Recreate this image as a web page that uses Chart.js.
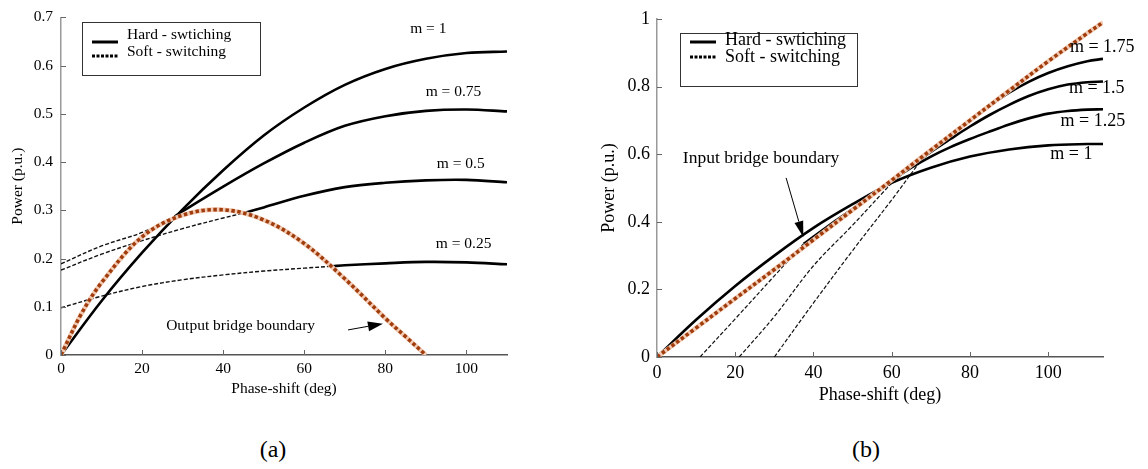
<!DOCTYPE html>
<html lang="en">
<head>
<meta charset="UTF-8">
<title>Power vs phase-shift</title>
<script src="https://cdn.jsdelivr.net/npm/chart.js"></script>
<style>
  body { margin: 0; background: #fff; width: 1148px; height: 469px; position: relative; overflow: hidden; }
  canvas { position: absolute; top: 0; }
  #chartA { left: 0; }
  #chartB { left: 574px; }
  .caption { position: absolute; top: 435px; font-family: 'Liberation Serif', serif; font-size: 24px; line-height: 28px; transform: translateX(-50%); }
</style>
</head>
<body>
<canvas id="chartA" width="560" height="420"></canvas>
<canvas id="chartB" width="574" height="420"></canvas>
<div class="caption" style="left:273px">(a)</div>
<div class="caption" style="left:866px">(b)</div>
<script>
// ---- (a) output bridge, m <= 1 : [phase-shift deg, power p.u.]
const A_M1_HARD   = [[0,0],[10,0.112],[20,0.212],[30,0.302],[40,0.383],[50,0.455],[60,0.513],[70,0.56],[80,0.593],[90,0.614],[100,0.626],[110,0.629]];
const A_M075_SOFT = [[0,0.189],[10,0.226],[20,0.254],[28,0.287]];
const A_M075_HARD = [[28,0.287],[30,0.298],[40,0.349],[50,0.397],[60,0.44],[70,0.475],[80,0.495],[90,0.506],[100,0.509],[110,0.505]];
const A_M05_SOFT  = [[0,0.176],[10,0.209],[20,0.237],[30,0.262],[40,0.284],[45,0.294]];
const A_M05_HARD  = [[45,0.294],[50,0.306],[60,0.33],[70,0.348],[80,0.357],[90,0.362],[100,0.363],[110,0.358]];
const A_M025_SOFT = [[0,0.098],[10,0.122],[20,0.142],[30,0.156],[40,0.166],[50,0.174],[60,0.18],[67,0.184]];
const A_M025_HARD = [[67,0.184],[70,0.186],[80,0.19],[90,0.193],[100,0.192],[110,0.188]];
const A_BOUNDARY  = [[0,0],[5,0.085],[10,0.15],[20,0.245],[30,0.29],[40,0.301],[50,0.28],[60,0.231],[70,0.158],[80,0.076],[85,0.038],[90,0]];
const A_XTICKS = [0, 20, 40, 60, 80, 100];
const A_YTICKS = [0, 0.1, 0.2, 0.3, 0.4, 0.5, 0.6, 0.7];

// ---- (b) input bridge, m >= 1
const B_M1_HARD   = [[0,0],[10,0.11],[20,0.21],[30,0.3],[40,0.382],[50,0.452],[60,0.515],[70,0.56],[80,0.593],[90,0.614],[100,0.626],[110,0.63],[114,0.63]];
const B_M125_SOFT = [[11,0],[20,0.113],[30,0.24],[37.5,0.335]];
const B_M125_HARD = [[37.5,0.335],[45,0.398],[50,0.438],[55,0.48],[60,0.522],[65,0.56],[70,0.593],[75,0.621],[80,0.645],[85,0.667],[90,0.688],[95,0.706],[100,0.72],[105,0.728],[110,0.732],[114,0.733]];
const B_M15_SOFT  = [[21,0],[30,0.12],[40,0.27],[50,0.39],[58,0.49],[61,0.527]];
const B_M15_HARD  = [[61,0.527],[65,0.566],[70,0.607],[75,0.645],[80,0.682],[85,0.716],[90,0.746],[95,0.772],[100,0.792],[105,0.806],[110,0.813],[114,0.815]];
const B_M175_SOFT = [[30,0],[40,0.16],[50,0.315],[60,0.465],[68,0.59]];
const B_M175_HARD = [[68,0.59],[75,0.655],[80,0.7],[85,0.743],[90,0.782],[95,0.814],[100,0.84],[105,0.86],[110,0.875],[114,0.882]];
const B_BOUNDARY  = [[0,0],[10,0.086],[20,0.173],[30,0.259],[40,0.347],[50,0.435],[60,0.523],[70,0.612],[80,0.7],[90,0.788],[100,0.875],[110,0.958],[114,0.99]];
const B_XTICKS = [0, 20, 40, 60, 80, 100];
const B_YTICKS = [0, 0.2, 0.4, 0.6, 0.8, 1];

const SERIF = "'Liberation Serif', 'Times New Roman', serif";

function pts(arr) { return arr.map(p => ({ x: p[0], y: p[1] })); }

function hard(arr) {
  return { data: pts(arr), borderColor: '#000', borderWidth: 2.6, tension: 0.35 };
}
function soft(arr, w) {
  return { data: pts(arr), borderColor: '#111', borderWidth: w || 1.4, borderDash: [4, 2], tension: 0.35 };
}
// boundary: dark dotted line over a light halo
function boundary(arr) {
  return [
    { data: pts(arr), borderColor: '#a13d0d', borderWidth: 3.6, borderDash: [3.5, 2.5], tension: 0.35 },
    { data: pts(arr), borderColor: '#f2cbb4', borderWidth: 4.6, tension: 0.35 }
  ];
}

// inner ticks, legend box, labels and arrows
const decor = {
  id: 'decor',
  afterDraw(chart) {
    const d = chart.options.plugins.decor;
    const ctx = chart.ctx, xs = chart.scales.x, ys = chart.scales.y, a = chart.chartArea;
    ctx.save();
    // tick marks pointing into the plot
    ctx.strokeStyle = '#666';
    ctx.lineWidth = 1;
    ctx.beginPath();
    xs.ticks.forEach(t => { const p = Math.round(xs.getPixelForValue(t.value)) + 0.5; ctx.moveTo(p, a.bottom); ctx.lineTo(p, a.bottom - 5); });
    ys.ticks.forEach(t => { const p = Math.round(ys.getPixelForValue(t.value)) + 0.5; ctx.moveTo(a.left, p); ctx.lineTo(a.left + 5, p); });
    ctx.stroke();

    // legend
    const L = d.legend;
    ctx.fillStyle = '#fff';
    ctx.fillRect(L.x, L.y, L.w, L.h);
    ctx.strokeStyle = '#333';
    ctx.lineWidth = 1;
    ctx.strokeRect(L.x + 0.5, L.y + 0.5, L.w, L.h);
    ctx.strokeStyle = '#000';
    ctx.lineWidth = 3;
    ctx.beginPath(); ctx.moveTo(L.sx0, L.ly1); ctx.lineTo(L.sx1, L.ly1); ctx.stroke();
    ctx.setLineDash([3, 1.5]);
    ctx.beginPath(); ctx.moveTo(L.sx0, L.ly2); ctx.lineTo(L.sx1, L.ly2); ctx.stroke();
    ctx.setLineDash([]);
    ctx.fillStyle = '#000';
    ctx.font = L.font + 'px ' + SERIF;
    ctx.textAlign = 'left';
    ctx.textBaseline = 'middle';
    ctx.fillText('Hard - swtiching', L.tx, L.ty1);
    ctx.fillText('Soft - switching', L.tx, L.ty2);

    // curve labels (data coordinates)
    ctx.textAlign = 'center';
    d.labels.forEach(l => {
      ctx.font = l.size + 'px ' + SERIF;
      ctx.fillText(l.text, xs.getPixelForValue(l.x), ys.getPixelForValue(l.y));
    });

    // arrows
    d.arrows.forEach(r => {
      const x0 = xs.getPixelForValue(r.from[0]), y0 = ys.getPixelForValue(r.from[1]);
      const x1 = xs.getPixelForValue(r.to[0]), y1 = ys.getPixelForValue(r.to[1]);
      const ang = Math.atan2(y1 - y0, x1 - x0);
      const bx = x1 - r.head * Math.cos(ang), by = y1 - r.head * Math.sin(ang);
      ctx.strokeStyle = '#000';
      ctx.lineWidth = 1;
      ctx.beginPath(); ctx.moveTo(x0, y0); ctx.lineTo(bx, by); ctx.stroke();
      const nx = -Math.sin(ang) * r.half, ny = Math.cos(ang) * r.half;
      ctx.beginPath();
      ctx.moveTo(x1, y1);
      ctx.lineTo(bx + nx, by + ny);
      ctx.lineTo(bx - nx, by - ny);
      ctx.closePath();
      ctx.fill();
    });
    ctx.restore();
  }
};

function makeChart(id, cfg) {
  const canvas = document.getElementById(id);
  const W = canvas.width, H = canvas.height;
  const area = cfg.area;
  return new Chart(canvas.getContext('2d'), {
    type: 'line',
    data: { datasets: cfg.datasets },
    options: {
      responsive: false,
      animation: false,
      layout: { padding: { left: 0, top: area.top, right: W - area.right, bottom: 0 } },
      elements: { point: { radius: 0 }, line: { fill: false } },
      plugins: { legend: { display: false }, tooltip: { enabled: false }, decor: cfg.decor },
      scales: {
        x: {
          type: 'linear', min: 0, max: cfg.xMax,
          afterBuildTicks: s => { s.ticks = cfg.xTicks.map(v => ({ value: v })); },
          afterFit: s => { s.height = H - area.bottom; },
          grid: { display: false, drawTicks: false },
          border: { display: true, color: '#555', width: 1.5 },
          ticks: { autoSkip: false, maxRotation: 0, padding: cfg.xPad, color: '#000', font: { family: SERIF, size: cfg.tickSize } },
          title: { display: true, text: 'Phase-shift (deg)', color: '#000', font: { family: SERIF, size: cfg.titleSize }, padding: { top: 0, bottom: cfg.xTitlePad } }
        },
        y: {
          type: 'linear', min: 0, max: cfg.yMax,
          afterBuildTicks: s => { s.ticks = cfg.yTicks.map(v => ({ value: v })); },
          afterFit: s => { s.width = area.left; },
          grid: { display: false, drawTicks: false },
          border: { display: true, color: '#999', width: 1.5 },
          ticks: { autoSkip: false, padding: cfg.yPad, color: '#000', font: { family: SERIF, size: cfg.tickSize }, callback: v => String(v) },
          title: { display: true, text: 'Power (p.u.)', color: '#000', font: { family: SERIF, size: cfg.titleSize }, padding: { top: cfg.yTitlePad, bottom: 0 } }
        }
      }
    },
    plugins: [decor]
  });
}

makeChart('chartA', {
  area: { left: 61, right: 507, top: 9, bottom: 355 },
  xMax: 110, yMax: 0.7, xTicks: A_XTICKS, yTicks: A_YTICKS,
  tickSize: 15.5, titleSize: 15.5, xPad: 5, yPad: 8, xTitlePad: 21.5, yTitlePad: 8.5,
  datasets: [
    ...boundary(A_BOUNDARY),
    hard(A_M1_HARD),
    hard(A_M075_HARD), soft(A_M075_SOFT),
    hard(A_M05_HARD), soft(A_M05_SOFT),
    hard(A_M025_HARD), soft(A_M025_SOFT)
  ],
  decor: {
    legend: { x: 82, y: 22, w: 178, h: 53, sx0: 92, sx1: 118, ly1: 42, ly2: 56, tx: 127, ty1: 35, ty2: 52, font: 15.5 },
    labels: [
      { text: 'm = 1', x: 90.6, y: 0.676, size: 15.5 },
      { text: 'm = 0.75', x: 96.8, y: 0.545, size: 15.5 },
      { text: 'm = 0.5', x: 98.6, y: 0.396, size: 15.5 },
      { text: 'm = 0.25', x: 99.3, y: 0.231, size: 15.5 },
      { text: 'Output bridge boundary', x: 44.3, y: 0.061, size: 15.5 }
    ],
    arrows: [ { from: [70.8, 0.052], to: [79.4, 0.065], head: 15, half: 5 } ]
  }
});

makeChart('chartB', {
  area: { left: 83, right: 529, top: 19, bottom: 357 },
  xMax: 114, yMax: 1, xTicks: B_XTICKS, yTicks: B_YTICKS,
  tickSize: 18, titleSize: 18, xPad: 5, yPad: 7, xTitlePad: 13.5, yTitlePad: 24,
  datasets: [
    ...boundary(B_BOUNDARY),
    hard(B_M1_HARD),
    hard(B_M125_HARD), soft(B_M125_SOFT, 1.2),
    hard(B_M15_HARD), soft(B_M15_SOFT, 1.2),
    hard(B_M175_HARD), soft(B_M175_SOFT, 1.2)
  ],
  decor: {
    legend: { x: 106, y: 33, w: 177, h: 53, sx0: 116, sx1: 142, ly1: 42, ly2: 57, tx: 151, ty1: 40, ty2: 57, font: 18 },
    labels: [
      { text: 'm = 1.75', x: 113.8, y: 0.917, size: 18 },
      { text: 'm = 1.5', x: 112.4, y: 0.794, size: 18 },
      { text: 'm = 1.25', x: 111.4, y: 0.697, size: 18 },
      { text: 'm = 1', x: 105.9, y: 0.599, size: 18 },
      { text: 'Input bridge boundary', x: 26.6, y: 0.589, size: 17.5 }
    ],
    arrows: [ { from: [33.0, 0.53], to: [37.4, 0.355], head: 16, half: 4.5 } ]
  }
});
</script>
</body>
</html>
